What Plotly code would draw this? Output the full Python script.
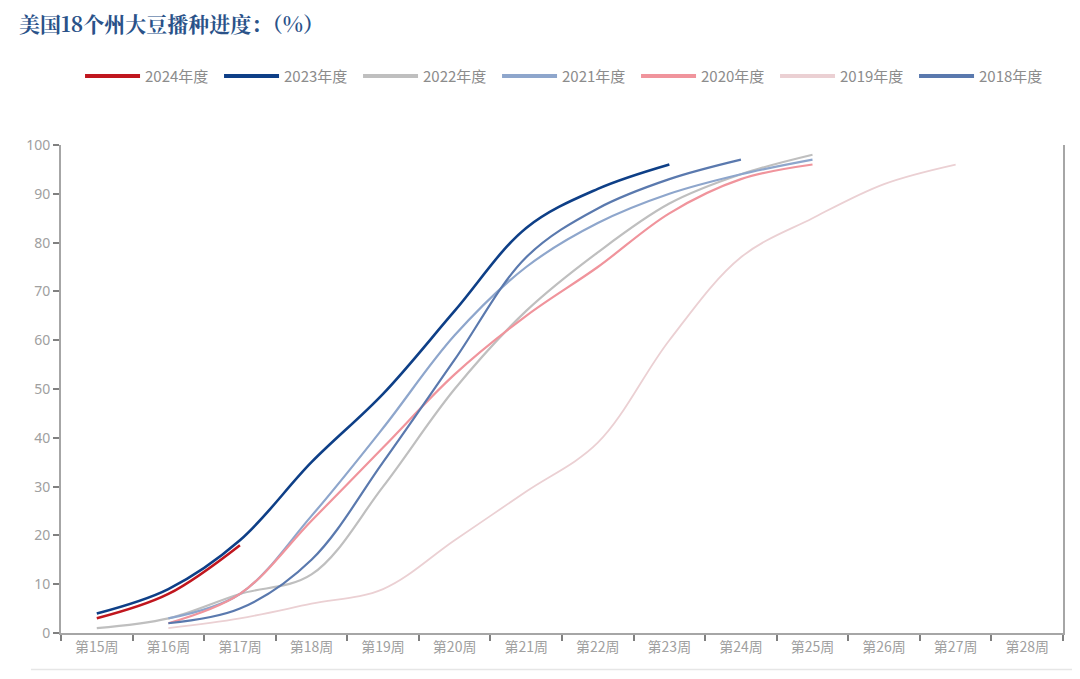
import plotly.graph_objects as go

weeks = ["第15周", "第16周", "第17周", "第18周", "第19周", "第20周", "第21周",
         "第22周", "第23周", "第24周", "第25周", "第26周", "第27周", "第28周"]

y2024 = [3, 8, 18]
y2023 = [4, 9, 19, 35, 49, 66, 83, 91, 96]
y2022 = [1, 3, 8, 12, 30, 50, 66, 78, 88, 94, 98]
y2021 = [None, 3, 8, 24, 42, 61, 75, 84, 90, 94, 97]
y2020 = [None, 2, 8, 23, 38, 53, 65, 75, 86, 93, 96]
y2019 = [None, 1, 3, 6, 9, 19, 29, 39, 60, 77, 85, 92, 96]
y2018 = [None, 2, 5, 15, 35, 56, 77, 87, 93, 97]

series = [
    ("2024年度", y2024, "#C0161E", 2.6),
    ("2023年度", y2023, "#0E3F87", 2.6),
    ("2022年度", y2022, "#BFBFBF", 2.2),
    ("2021年度", y2021, "#8EA6CC", 2.2),
    ("2020年度", y2020, "#F0949C", 2.2),
    ("2019年度", y2019, "#EBD0D3", 1.8),
    ("2018年度", y2018, "#5A79AE", 2.2),
]

fig = go.Figure()
for name, vals, color, w in series:
    fig.add_trace(go.Scatter(
        x=weeks[:len(vals)], y=vals, name=name, mode="lines",
        line=dict(color=color, width=w, shape="spline", smoothing=1.0),
        connectgaps=False, legendgroup=name, showlegend=False,
    ))
    # legend entry with thicker sample line
    fig.add_trace(go.Scatter(
        x=[None], y=[None], name=name, mode="lines",
        line=dict(color=color, width=4),
        legendgroup=name, showlegend=True,
    ))

axis_col = "#A6A6A6"
tick_font = dict(family="Noto Sans CJK SC, Noto Sans, sans-serif", size=14, color="#A0A0A0")

# page body has an 8px margin: figure sized/margined to compensate
fig.update_layout(
    width=1064, height=663,
    margin=dict(l=53, r=7, t=137, b=38),
    paper_bgcolor="white", plot_bgcolor="white",
    showlegend=True,
    legend=dict(
        orientation="h", x=0.019, xanchor="left", y=1.141, yanchor="middle",
        font=dict(family="Noto Sans CJK SC, Noto Sans, sans-serif", size=15, color="#8C8C8C"),
        entrywidth=69, entrywidthmode="pixels", itemwidth=55,
        traceorder="normal",
    ),
    xaxis=dict(
        type="category", categoryorder="array", categoryarray=weeks,
        range=[-0.5, len(weeks) - 0.5],
        showline=True, linecolor=axis_col, linewidth=2,
        ticks="outside", tickson="boundaries", ticklen=6, tickcolor="#808080", tickwidth=1.5,
        showgrid=False, tickfont=tick_font, zeroline=False,
    ),
    yaxis=dict(
        range=[0, 100], dtick=10,
        showline=True, linecolor=axis_col, linewidth=2, mirror=True,
        ticks="outside", ticklen=6, tickcolor="#808080", tickwidth=1.5,
        showgrid=False, zeroline=False,
        tickfont=dict(family="Noto Sans, sans-serif", size=14, color="#A0A0A0"),
    ),
)

fig.add_annotation(
    text="<b>美国18个州大豆播种进度：（%）</b>",
    xref="paper", yref="paper", x=-0.044, y=1.25, xanchor="left", yanchor="middle",
    showarrow=False,
    font=dict(family="Noto Serif CJK SC, Noto Sans CJK SC, sans-serif", size=21, color="#2A5289"),
)

fig.add_shape(type="line", xref="paper", yref="paper",
              x0=-0.03, x1=1.02, y0=-0.075, y1=-0.075,
              line=dict(color="#E6E6E6", width=1.5))

fig.write_html("out.html")
